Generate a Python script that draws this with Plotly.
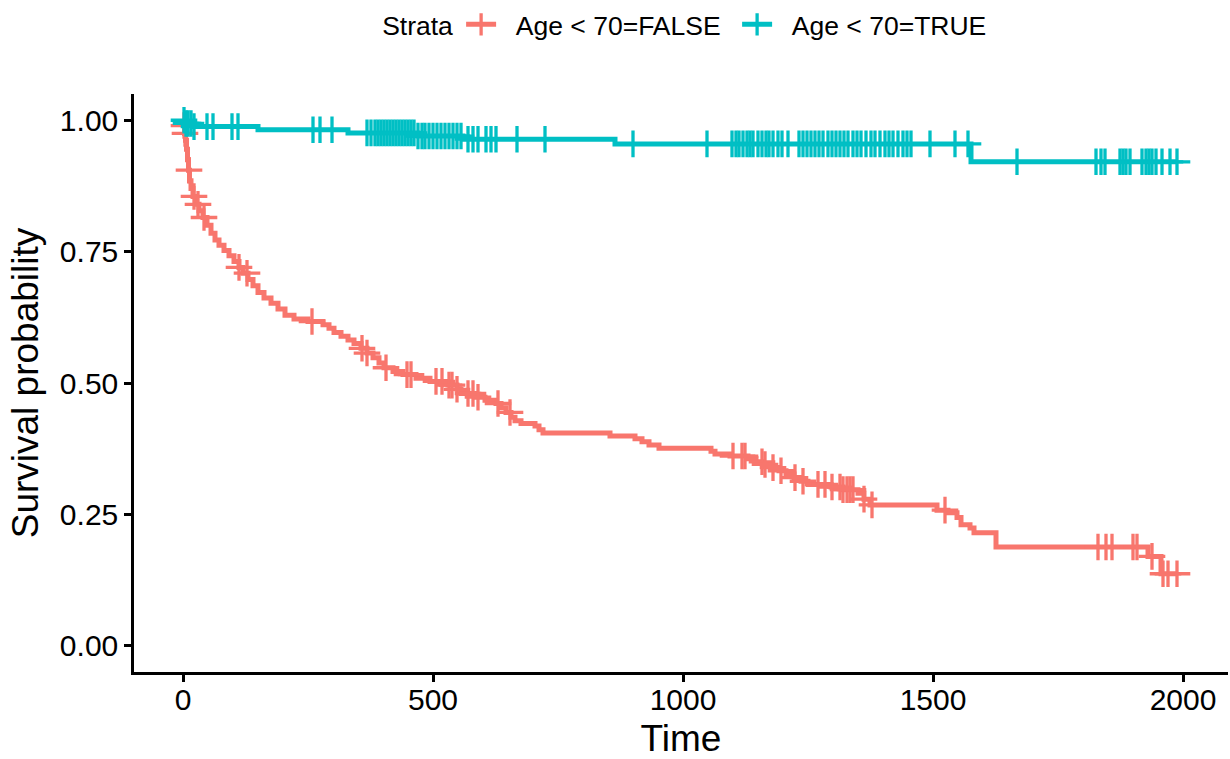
import numpy as np
import plotly.graph_objects as go

# ---- data: Kaplan-Meier steps (time, survival) ----
false_time = [0, 1, 3, 5, 7, 9, 11, 13, 16, 20, 25, 32, 40, 48, 56, 64, 72, 82, 92, 102, 112,
              120, 130, 140, 150, 162, 176, 190, 204, 222, 250, 280, 292, 302, 316, 330, 342,
              356, 368, 380, 392, 402, 420, 440, 466, 494, 530, 548, 556, 586, 604, 626, 636,
              646, 656, 664, 676, 704, 712, 720, 854, 904, 918, 932, 952, 1056, 1064, 1094,
              1130, 1146, 1160, 1176, 1192, 1206, 1222, 1236, 1250, 1296, 1320, 1350, 1362,
              1374, 1508, 1530, 1548, 1556, 1574, 1582, 1626, 1930, 1956]
false_surv = [1.0, 0.99, 0.975, 0.962, 0.945, 0.925, 0.905, 0.885, 0.87, 0.855, 0.84, 0.828,
              0.815, 0.80, 0.785, 0.772, 0.762, 0.752, 0.742, 0.731, 0.72, 0.709, 0.697, 0.685,
              0.672, 0.662, 0.652, 0.641, 0.629, 0.622, 0.617, 0.611, 0.604, 0.596, 0.589,
              0.582, 0.575, 0.566, 0.557, 0.548, 0.538, 0.529, 0.522, 0.516, 0.509, 0.503,
              0.496, 0.488, 0.48, 0.473, 0.467, 0.461, 0.453, 0.444, 0.435, 0.428, 0.423,
              0.418, 0.411, 0.405, 0.399, 0.394, 0.388, 0.382, 0.376, 0.37, 0.365, 0.361,
              0.356, 0.35, 0.345, 0.339, 0.333, 0.327, 0.32, 0.313, 0.307, 0.302, 0.297,
              0.29, 0.279, 0.268, 0.258, 0.253, 0.244, 0.23, 0.224, 0.215, 0.188, 0.17, 0.137]
false_end = 1988
false_censor = [2, 4, 12, 22, 30, 42, 112, 128, 258, 358, 368, 406, 448, 456, 506, 518, 532,
                538, 548, 570, 580, 590, 630, 654, 1100, 1118, 1124, 1158, 1164, 1180, 1196,
                1224, 1240, 1270, 1284, 1298, 1314, 1320, 1328, 1334, 1340, 1362, 1378, 1524,
                1830, 1846, 1858, 1900, 1908, 1938, 1960, 1970, 1988]

true_time = [0, 6, 20, 150, 330, 470, 560, 864, 1576]
true_surv = [1.0, 0.994, 0.988, 0.982, 0.976, 0.97, 0.964, 0.955, 0.921]
true_end = 1990
true_censor = [2, 6, 10, 16, 22, 48, 60, 98, 110, 260, 274, 298,
               368, 376, 384, 390, 396, 402, 408, 414, 420, 426, 432, 438, 444, 450, 456, 462,
               470, 478, 484, 492, 500, 508, 516, 524, 532, 540, 548, 556, 570, 580, 590, 606,
               616, 626, 668, 724, 900, 1048,
               1098, 1106, 1112, 1120, 1128, 1134, 1140, 1150, 1158, 1166, 1172, 1180, 1190,
               1198, 1210, 1232, 1240, 1248, 1256, 1264, 1272, 1280, 1290, 1298, 1306, 1314,
               1322, 1330, 1340, 1348, 1356, 1366, 1376, 1384, 1394, 1404, 1412, 1420, 1430,
               1440, 1448, 1456, 1494, 1544, 1570, 1668, 1826, 1836, 1844, 1874, 1880, 1886,
               1894, 1918, 1926, 1932, 1938, 1946, 1958, 1974, 1988]

strata_names = ["Age < 70=FALSE", "Age < 70=TRUE"]
colors = ["#F8766D", "#00BFC4"]

x_ticks = [0, 500, 1000, 1500, 2000]
y_ticks = [0.0, 0.25, 0.5, 0.75, 1.0]
y_tick_text = ["0.00", "0.25", "0.50", "0.75", "1.00"]


def surv_at(times, survs, t):
    idx = np.searchsorted(np.array(times), np.array(t), side="right") - 1
    return np.array(survs)[idx]


FONT = "Liberation Sans, Arial, Helvetica, sans-serif"
fig = go.Figure()

groups = [
    (false_time, false_surv, false_end, false_censor),
    (true_time, true_surv, true_end, true_censor),
]
for (tt, ss, tend, cens), name, col in zip(groups, strata_names, colors):
    xs = list(tt) + [tend]
    ys = list(ss) + [ss[-1]]
    fig.add_trace(go.Scatter(x=xs, y=ys, mode="lines", line=dict(color=col, width=5, shape="hv"),
                             showlegend=False, hoverinfo="skip"))
    fig.add_trace(go.Scatter(x=cens, y=surv_at(tt, ss, cens), mode="markers",
                             marker=dict(symbol="cross-thin", size=19, line=dict(color=col, width=3.3)),
                             showlegend=False, hoverinfo="skip"))
    fig.add_trace(go.Scatter(x=[None], y=[None], mode="lines+markers",
                             name="\u200b\u00a0\u00a0" + name,
                             line=dict(color=col, width=5),
                             marker=dict(symbol="cross-thin", size=16, line=dict(color=col, width=3.3))))

fig.update_layout(
    width=1230, height=759,
    margin=dict(l=134, r=2, t=94, b=87, autoexpand=False),
    paper_bgcolor="white", plot_bgcolor="white",
    font=dict(family=FONT, color="black"),
    legend=dict(orientation="h", x=0.225, xanchor="left", y=1.12, yanchor="middle",
                title=dict(text="Strata", font=dict(size=26.5)), font=dict(size=26.5),
                itemwidth=30, entrywidth=231, entrywidthmode="pixels"),
    xaxis=dict(range=[-98, 2090], tickvals=x_ticks, ticks="outside", ticklen=7, tickwidth=2.5,
               tickcolor="black", showline=True, linecolor="black", linewidth=2.5,
               showgrid=False, zeroline=False, tickfont=dict(size=30), ticklabelstandoff=-8,
               title=dict(text="Time", font=dict(size=37), standoff=15)),
    yaxis=dict(range=[-0.05, 1.05], tickvals=y_ticks, ticktext=y_tick_text, ticks="outside",
               ticklen=7, tickwidth=2.5, tickcolor="black", showline=True, linecolor="black",
               linewidth=2.5, showgrid=False, zeroline=False, tickfont=dict(size=30),
               title=dict(text="Survival probability", font=dict(size=37), standoff=10)),
)

fig.write_html("out.html")
